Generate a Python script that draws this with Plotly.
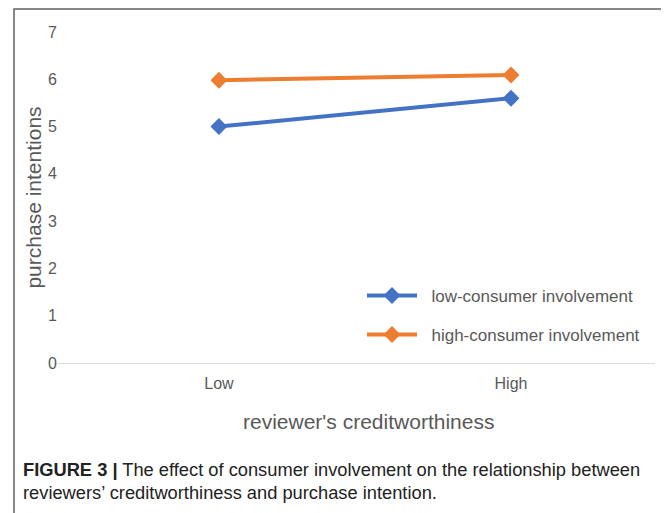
import plotly.graph_objects as go

categories = ["Low", "High"]
low_involvement = [5.0, 5.6]
high_involvement = [5.98, 6.09]
y_ticks = [0, 1, 2, 3, 4, 5, 6, 7]

BLUE = "#4472C4"
ORANGE = "#ED7D31"
GREY = "#595959"
FONT = "Liberation Sans, Arial, sans-serif"

# page body has an 8px margin, so the figure is drawn at an (8, 8) offset
OFF = 8
W, H = 669 - OFF, 513 - OFF
L, R, T, B = 58 - OFF, W - (655 - OFF), 32 - OFF, H - (363 - OFF)
pw = W - L - R
ph = H - T - B

def px_x(p):
    return (p - OFF - L) / pw

def px_y(p):
    return (H - B - (p - OFF)) / ph

PAD = "\u00a0\u00a0"

fig = go.Figure()
fig.add_trace(go.Scatter(
    x=categories, y=low_involvement, mode="lines+markers",
    name=PAD + "low-consumer involvement",
    line=dict(color=BLUE, width=4),
    marker=dict(symbol="diamond", size=13, color=BLUE),
    legend="legend",
))
fig.add_trace(go.Scatter(
    x=categories, y=high_involvement, mode="lines+markers",
    name=PAD + "high-consumer involvement",
    line=dict(color=ORANGE, width=4),
    marker=dict(symbol="diamond", size=13, color=ORANGE),
    legend="legend2",
))

fig.update_layout(
    width=W, height=H,
    margin=dict(l=L, r=R, t=T, b=B),
    paper_bgcolor="white", plot_bgcolor="white",
    font=dict(family=FONT, color=GREY, size=16),
    xaxis=dict(
        type="category", range=[-0.551, 1.493],
        showline=True, linecolor="#D9D9D9", linewidth=1,
        showgrid=False, zeroline=False, ticks="",
        tickfont=dict(size=16, color=GREY), ticklabelstandoff=6,
    ),
    yaxis=dict(
        range=[0, 7], tickvals=y_ticks, showgrid=False, zeroline=False,
        showline=False, ticks="",
        tickfont=dict(size=16, color=GREY), ticklabelstandoff=0,
        title=dict(text="purchase intentions", font=dict(size=21, color=GREY), standoff=0),
    ),
    legend=dict(
        x=px_x(362), y=px_y(296), xanchor="left", yanchor="middle",
        font=dict(size=17, color=GREY), bgcolor="rgba(0,0,0,0)",
        itemwidth=50,
    ),
    legend2=dict(
        x=px_x(362), y=px_y(335), xanchor="left", yanchor="middle",
        font=dict(size=17, color=GREY), bgcolor="rgba(0,0,0,0)",
        itemwidth=50,
    ),
    showlegend=True,
)

# x-axis title (Excel centres it on the whole chart area)
fig.add_annotation(
    xref="paper", yref="paper", x=px_x(368), y=px_y(421),
    xanchor="center", yanchor="middle", showarrow=False,
    text="reviewer's creditworthiness",
    font=dict(family=FONT, size=21, color=GREY),
)

# Figure frame
fig.add_shape(
    type="rect", xref="paper", yref="paper",
    x0=px_x(14), x1=px_x(667), y0=px_y(540), y1=px_y(9),
    line=dict(color="#606060", width=1.5), fillcolor="rgba(0,0,0,0)", layer="below",
)

# Caption
fig.add_annotation(
    xref="paper", yref="paper", x=px_x(21), y=px_y(469),
    xanchor="left", yanchor="middle", showarrow=False, align="left",
    text="<b>FIGURE 3 |</b> The effect of consumer involvement on the relationship between",
    font=dict(family=FONT, size=18.3, color="#222222"),
)
fig.add_annotation(
    xref="paper", yref="paper", x=px_x(21), y=px_y(492),
    xanchor="left", yanchor="middle", showarrow=False, align="left",
    text="reviewers\u2019 creditworthiness and purchase intention.",
    font=dict(family=FONT, size=18.3, color="#222222"),
)

fig.write_html("out.html")
